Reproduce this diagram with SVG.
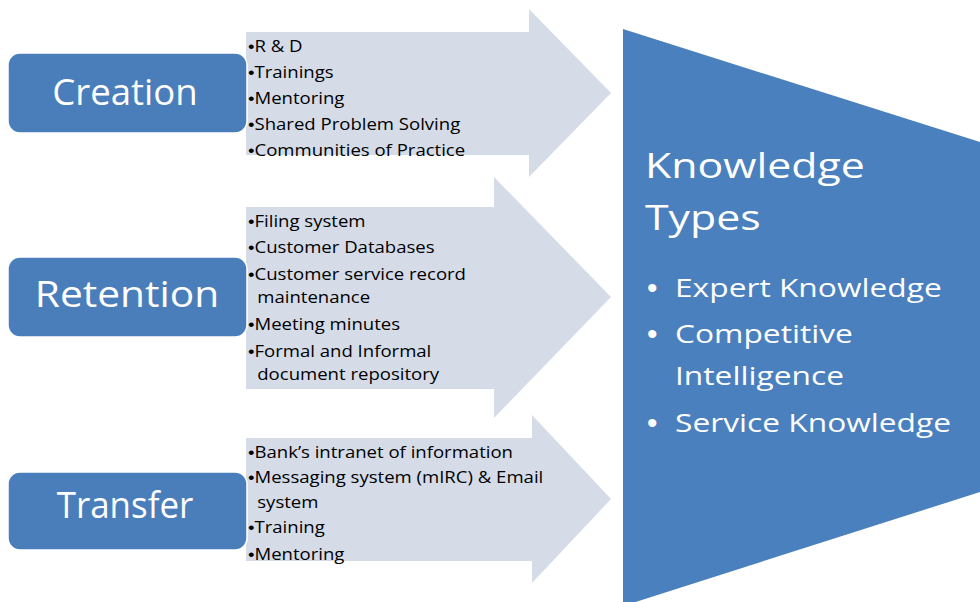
<svg xmlns="http://www.w3.org/2000/svg" width="980" height="602" viewBox="0 0 980 602">
<style>
.arrow{fill:#d5dce8;}
.box{fill:#4a7ebb;stroke:#ffffff;stroke-width:1.5;}
.lbl{font-family:"Open Sans","Liberation Sans",sans-serif;font-size:36px;fill:#ffffff;text-anchor:middle;}
.item{font-family:"Open Sans","Liberation Sans",sans-serif;font-size:16px;fill:#000000;}
.b{font-family:"Liberation Sans",sans-serif;}
.kt{fill:#4a80be;}
.ttl{font-family:"Open Sans","Liberation Sans",sans-serif;font-size:34px;fill:#ffffff;}
.kb{font-family:"Open Sans","Liberation Sans",sans-serif;font-size:26px;fill:#ffffff;}
.dot{font-family:"Liberation Sans",sans-serif;font-size:30px;fill:#ffffff;}
</style>
<rect width="980" height="602" fill="#ffffff"/>
<g id="connectors">
<polygon class="arrow" points="246,32 529,32 529,9 611,93 529,177 529,155 246,155"/>
<polygon class="arrow" points="246,207 494,207 494,177 611,297 494,418 494,389 246,389"/>
<polygon class="arrow" points="246,438 532,438 532,415 611,499 532,583 532,561 246,561"/>
</g>
<g id="creation-items" transform="matrix(1.16 0 0 1 248 0)">
<text class="item" x="0" y="52"><tspan class="b">•</tspan>R &amp; D</text>
<text class="item" x="0" y="78"><tspan class="b">•</tspan>Trainings</text>
<text class="item" x="0" y="104"><tspan class="b">•</tspan>Mentoring</text>
<text class="item" x="0" y="130"><tspan class="b">•</tspan>Shared Problem Solving</text>
<text class="item" x="0" y="156"><tspan class="b">•</tspan>Communities of Practice</text>
</g>
<g id="retention-items" transform="matrix(1.16 0 0 1 248 0)">
<text class="item" x="0" y="227"><tspan class="b">•</tspan>Filing system</text>
<text class="item" x="0" y="253"><tspan class="b">•</tspan>Customer Databases</text>
<text class="item" x="0" y="280"><tspan class="b">•</tspan>Customer service record</text>
<text class="item" x="8" y="303">maintenance</text>
<text class="item" x="0" y="330"><tspan class="b">•</tspan>Meeting minutes</text>
<text class="item" x="0" y="357"><tspan class="b">•</tspan>Formal and Informal</text>
<text class="item" x="8" y="380">document repository</text>
</g>
<g id="transfer-items" transform="matrix(1.16 0 0 1 248 0)">
<text class="item" x="0" y="458"><tspan class="b">•</tspan>Bank’s intranet of information</text>
<text class="item" x="0" y="483"><tspan class="b">•</tspan>Messaging system (mIRC) &amp; Email</text>
<text class="item" x="8" y="508">system</text>
<text class="item" x="0" y="533"><tspan class="b">•</tspan>Training</text>
<text class="item" x="0" y="560"><tspan class="b">•</tspan>Mentoring</text>
</g>
<g id="creation">
<rect class="box" x="8" y="53" width="239" height="80" rx="12"/>
<text class="lbl" transform="matrix(1.015 0 0 1 125 0)" x="0" y="105">Creation</text>
</g>
<g id="retention">
<rect class="box" x="8" y="257" width="239" height="80" rx="12"/>
<text class="lbl" transform="matrix(1.13 0 0 1 127 0)" x="0" y="307">Retention</text>
</g>
<g id="transfer">
<rect class="box" x="8" y="472" width="239" height="78" rx="12"/>
<text class="lbl" transform="matrix(0.97 0 0 1 125 0)" x="0" y="518">Transfer</text>
</g>
<g id="knowledge-types">
<polygon class="kt" points="623,29 980,142 980,492 623,606"/>
<g transform="matrix(1.26 0 0 1 645 0)">
<text class="ttl" x="0" y="178">Knowledge</text>
<text class="ttl" x="0" y="230">Types</text>
</g>
<text class="dot" x="647" y="298">•</text>
<text class="dot" x="647" y="344">•</text>
<text class="dot" x="647" y="433">•</text>
<g transform="matrix(1.22 0 0 1 675 0)">
<text class="kb" x="0" y="297">Expert Knowledge</text>
<text class="kb" x="0" y="343">Competitive</text>
<text class="kb" x="0" y="385">Intelligence</text>
<text class="kb" x="0" y="432">Service Knowledge</text>
</g>
</g>
</svg>
